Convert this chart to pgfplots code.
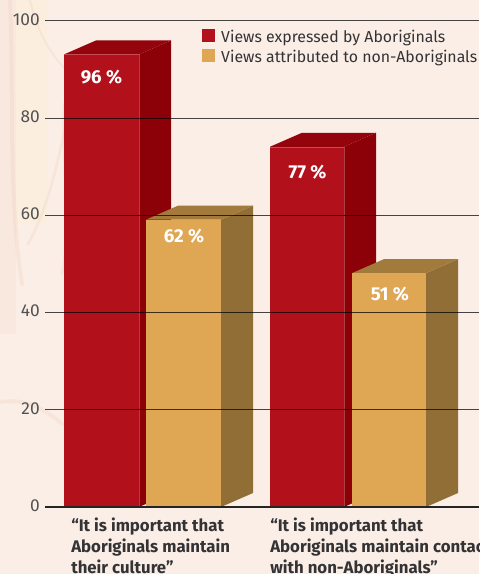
\documentclass[border=0pt]{standalone}
\usepackage{fontspec}
\setmainfont{Fira Sans}
\usepackage{pgfplots}
\pgfplotsset{compat=1.18}
\definecolor{paper}{HTML}{FBEEE6}
\definecolor{redfront}{HTML}{B2111C}
\definecolor{redside}{HTML}{8C0007}
\definecolor{redtop}{HTML}{94040C}
\definecolor{goldfront}{HTML}{DFA653}
\definecolor{goldside}{HTML}{916E35}
\definecolor{goldtop}{HTML}{A27A3C}
\definecolor{inktext}{HTML}{333335}
\definecolor{mapink}{HTML}{E8B9A0}
% one pixel of the sheet
\newdimen\pxu \pxu=0.75pt
\begin{document}
\begin{tikzpicture}[x=\pxu,y=\pxu]
\useasboundingbox (0,0) rectangle (479,574);
\clip (0,0) rectangle (479,574);
% paper and the faint old map behind the chart
\fill[paper] (0,0) rectangle (479,574);
\fill[mapink,opacity=.10] (0,240) rectangle (16,574);
\fill[yellow!40!paper,opacity=.07] (16,350) rectangle (47,574);
\begin{scope}[mapink,opacity=.16,line cap=round]
  \draw[line width=3] (10,574) .. controls (14,480) and (8,380) .. (22,290);
  \draw[line width=2] (72,480) .. controls (60,420) and (50,370) .. (28,330);
  \draw[line width=2] (64,470) .. controls (62,400) and (72,350) .. (62,300);
  \draw[line width=3] (0,172) .. controls (20,175) and (40,170) .. (62,150);
  \draw[line width=1.5] (30,574) .. controls (40,530) and (60,510) .. (70,500);
\end{scope}
\begin{axis}[
  at={(45\pxu,67\pxu)}, anchor=origin,
  scale only axis, width=434\pxu, height=486\pxu,
  xmin=45, xmax=479, ymin=0, ymax=100,
  clip=false,
  axis on top,
  axis x line=bottom, axis y line=left,
  x axis line style={-,draw=black!85!paper,line width=0.9pt},
  y axis line style={-,draw=none},
  ymajorgrids,
  ytick={0,20,40,60,80,100},
  grid style={black,opacity=.72,line width=0.75pt},
  major tick length=0pt,
  /pgf/number format/assume math mode=true,
  yticklabel style={anchor=east,inner sep=0pt,xshift=-5\pxu,yshift=1.5\pxu,
    text=inktext!85!white,font=\fontsize{13}{15}\selectfont},
  xtick={71,270},
  xticklabels={{“It is important that\\Aboriginals maintain\\their culture”},
               {“It is important that\\Aboriginals maintain contact\\with non-Aboriginals”}},
  xticklabel style={anchor=north west,align=left,inner sep=0pt,yshift=-10.5\pxu,
    font=\fontsize{12.6}{15.75}\selectfont\bfseries,text=inktext},
  legend style={at={(axis cs:202,100)},anchor=north west,draw=none,fill=none,
    inner sep=0pt,outer sep=0pt,yshift=-6\pxu,
    font=\fontsize{11.9}{13}\selectfont,text=inktext,
    /tikz/every even column/.style={column sep=7\pxu},
    /tikz/row sep=0.7\pxu},
  legend cell align=left,
  legend image code/.code={\fill[#1] (0,-4.5\pxu) rectangle (12\pxu,7.5\pxu);
    \path (16\pxu,0);},
]
\addlegendimage{redfront}
\addlegendentry{Views expressed by Aboriginals}
\addlegendimage{goldfront}
\addlegendentry{Views attributed to non-Aboriginals}

% first group, Aboriginals (96)
\addplot[forget plot,fill=redside,draw=none] coordinates {(139,0) (171,2.88) (171,96) (139,93.12)} -- cycle;
\addplot[forget plot,fill=redtop,draw=none] coordinates {(64,93.12) (96,96) (171,96) (139,93.12)} -- cycle;
\addplot[forget plot,fill=redfront,draw=none] coordinates {(64,0) (64,93.12) (139,93.12) (139,0)} -- cycle;
\addplot[forget plot,draw=white,draw opacity=.25,line width=.4pt] coordinates {(64,93.12) (139,93.12) (139,0)};
% first group, non-Aboriginals (62)
\addplot[forget plot,fill=goldside,draw=none] coordinates {(221,0) (253,2.88) (253,62) (221,59.12)} -- cycle;
\addplot[forget plot,fill=goldtop,draw=none] coordinates {(146,59.12) (178,62) (253,62) (221,59.12)} -- cycle;
\addplot[forget plot,fill=goldfront,draw=none] coordinates {(146,0) (146,59.12) (221,59.12) (221,0)} -- cycle;
% second group, Aboriginals (77)
\addplot[forget plot,fill=redside,draw=none] coordinates {(344,0) (376,2.88) (376,77) (344,74.12)} -- cycle;
\addplot[forget plot,fill=redtop,draw=none] coordinates {(270,74.12) (302,77) (376,77) (344,74.12)} -- cycle;
\addplot[forget plot,fill=redfront,draw=none] coordinates {(270,0) (270,74.12) (344,74.12) (344,0)} -- cycle;
\addplot[forget plot,draw=white,draw opacity=.25,line width=.4pt] coordinates {(270,74.12) (344,74.12) (344,0)};
% second group, non-Aboriginals (51)
\addplot[forget plot,fill=goldside,draw=none] coordinates {(426,0) (458,2.88) (458,51) (426,48.12)} -- cycle;
\addplot[forget plot,fill=goldtop,draw=none] coordinates {(352,48.12) (384,51) (458,51) (426,48.12)} -- cycle;
\addplot[forget plot,fill=goldfront,draw=none] coordinates {(352,0) (352,48.12) (426,48.12) (426,0)} -- cycle;

% value captions on the front faces
\begin{scope}[every node/.style={text=white,font=\fontsize{14}{16}\selectfont\bfseries,inner sep=0pt}]
\node at (axis cs:101.5,88.5) {96 \%};
\node at (axis cs:184,55.8) {62 \%};
\node at (axis cs:307.5,68.9) {77 \%};
\node at (axis cs:390,43.8) {51 \%};
\end{scope}
\end{axis}
\end{tikzpicture}
\end{document}
